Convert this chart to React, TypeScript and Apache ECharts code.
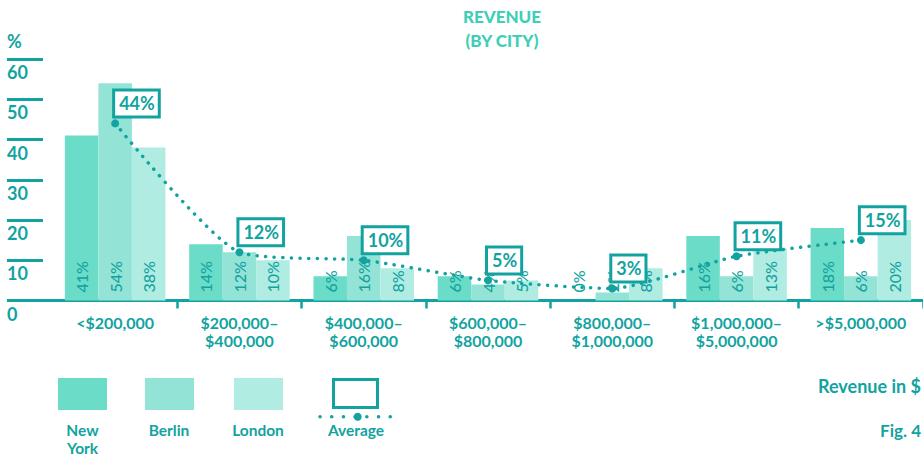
import React, { useEffect, useRef } from "react";
import * as echarts from "echarts";

const categories = [
  "<$200,000",
  "$200,000–\n$400,000",
  "$400,000–\n$600,000",
  "$600,000–\n$800,000",
  "$800,000–\n$1,000,000",
  "$1,000,000–\n$5,000,000",
  ">$5,000,000",
];
const newYork = [41, 14, 6, 6, 0, 16, 18];
const berlin = [54, 12, 16, 4, 2, 6, 6];
const london = [38, 10, 8, 5, 8, 13, 20];
const average = [44, 12, 10, 5, 3, 11, 15];
const seriesNames = ["New\nYork", "Berlin", "London", "Average"];

const TEAL = "#12A3A0";
const TITLE = "#40CFB6";
const C_NY = "#6ADCC8";
const C_BER = "#93E3D6";
const C_LON = "#B0ECE2";
const FONT = "Lato";

export default function App() {
  const ref = useRef<HTMLDivElement>(null);
  useEffect(() => {
    if (!ref.current) return;
    const chart = echarts.init(ref.current, undefined, { renderer: "svg" });
    const barLabel = {
      show: true,
      position: "insideBottom",
      rotate: 90,
      align: "left",
      verticalAlign: "middle",
      distance: 8,
      formatter: "{c}%",
      color: TEAL,
      fontSize: 16,
      fontWeight: 500,
      fontFamily: FONT,
    };
    const legendColors = [C_NY, C_BER, C_LON];
    const legendX = [58, 145, 234];
    const legendTextX = [82.5, 169, 258, 356];
    const graphic: any[] = [
      {
        type: "text",
        x: 502,
        y: 5,
        style: {
          text: "REVENUE\n(BY CITY)",
          fill: TITLE,
          font: `900 17px ${FONT}`,
          textAlign: "center",
          lineHeight: 23.5,
        },
      },
      {
        type: "line",
        shape: { x1: 7, y1: 300.5, x2: 56, y2: 300.5 },
        style: { stroke: TEAL, lineWidth: 3 },
      },
      {
        type: "text",
        x: 921,
        y: 377,
        style: { text: "Revenue in $", fill: TEAL, font: `bold 18px ${FONT}`, textAlign: "right" },
      },
      {
        type: "text",
        x: 921,
        y: 422,
        style: { text: "Fig. 4", fill: TEAL, font: `bold 17px ${FONT}`, textAlign: "right" },
      },
      {
        type: "rect",
        shape: { x: 333.5, y: 379.5, width: 44, height: 28 },
        style: { fill: "#fff", stroke: TEAL, lineWidth: 3 },
      },
      {
        type: "line",
        shape: { x1: 320, y1: 416.7, x2: 394, y2: 416.7 },
        style: { stroke: TEAL, lineWidth: 3.5, lineDash: [0.1, 11.6], lineCap: "round" },
      },
      {
        type: "circle",
        shape: { cx: 357.7, cy: 416.7, r: 4 },
        style: { fill: TEAL },
      },
    ];
    legendColors.forEach((c, i) => {
      graphic.push({
        type: "rect",
        shape: { x: legendX[i], y: 378, width: 49, height: 32 },
        style: { fill: c },
      });
    });
    seriesNames.forEach((n, i) => {
      n.split("\n").forEach((line, j) => {
        graphic.push({
          type: "text",
          x: legendTextX[i],
          y: 430 + j * 18,
          style: {
            text: line,
            fill: TEAL,
            font: `bold 15.5px ${FONT}`,
            textAlign: "center",
            textVerticalAlign: "middle",
          },
        });
      });
    });

    chart.setOption({
      animation: false,
      textStyle: { fontFamily: FONT },
      grid: [
        { left: 53, right: -3, top: 59, bottom: 155.5 },
        { left: 7, width: 36, top: 59, bottom: 155.5 },
      ],
      xAxis: [
        {
          type: "category",
          gridIndex: 0,
          data: categories,
          axisLine: { show: true, lineStyle: { color: TEAL, width: 3 } },
          axisTick: {
            show: true,
            length: 8,
            interval: (i: number) => i !== 0,
            lineStyle: { color: TEAL, width: 2.5 },
          },
          axisLabel: {
            color: TEAL,
            fontSize: 16,
            fontWeight: "bold",
            fontFamily: FONT,
            lineHeight: 18,
            margin: 13,
            interval: 0,
          },
        },
        { type: "value", gridIndex: 1, show: false, min: 0, max: 1 },
      ],
      yAxis: [
        { type: "value", gridIndex: 0, min: 0, max: 60, interval: 10, show: false },
        {
          type: "value",
          gridIndex: 1,
          min: 0,
          max: 60,
          interval: 10,
          name: "%",
          nameLocation: "end",
          nameGap: 18,
          nameTextStyle: {
            color: TEAL,
            fontSize: 18,
            fontWeight: "bold",
            fontFamily: FONT,
            align: "left",
            verticalAlign: "middle",
          },
          axisLine: { show: false },
          axisTick: { show: false },
          splitLine: { show: true, lineStyle: { color: TEAL, width: 3 } },
          axisLabel: {
            inside: true,
            margin: 0,
            color: TEAL,
            fontSize: 18,
            fontWeight: "bold",
            fontFamily: FONT,
            verticalAlign: "top",
            padding: [4, 0, 0, 0],
          },
        },
      ],
      series: [
        {
          name: "New York",
          type: "bar",
          data: newYork,
          barWidth: 33.5,
          barGap: "0%",
          itemStyle: { color: C_NY },
          label: barLabel,
        },
        {
          name: "Berlin",
          type: "bar",
          data: berlin,
          barWidth: 33.5,
          barGap: "0%",
          itemStyle: { color: C_BER },
          label: barLabel,
        },
        {
          name: "London",
          type: "bar",
          data: london,
          barWidth: 33.5,
          barGap: "0%",
          itemStyle: { color: C_LON },
          label: barLabel,
        },
        {
          name: "Average",
          type: "line",
          data: average,
          smooth: 0.2,
          symbol: "circle",
          symbolSize: 8,
          itemStyle: { color: TEAL },
          lineStyle: { color: TEAL, width: 3.5, type: [0.1, 8.5], cap: "round" },
          z: 5,
          label: {
            show: true,
            position: "top",
            align: "left",
            verticalAlign: "bottom",
            distance: 4,
            formatter: "{c}%",
            color: TEAL,
            fontSize: 18,
            fontWeight: "bold",
            fontFamily: FONT,
            lineHeight: 20,
            backgroundColor: "#fff",
            borderColor: TEAL,
            borderWidth: 3,
            padding: [2, 3, 2, 4],
          },
        },
      ],
      graphic,
    });
    return () => chart.dispose();
  }, []);
  return (
    <div
      ref={ref}
      style={{ position: "absolute", left: 0, top: 0, width: 923, height: 456 }}
    />
  );
}
